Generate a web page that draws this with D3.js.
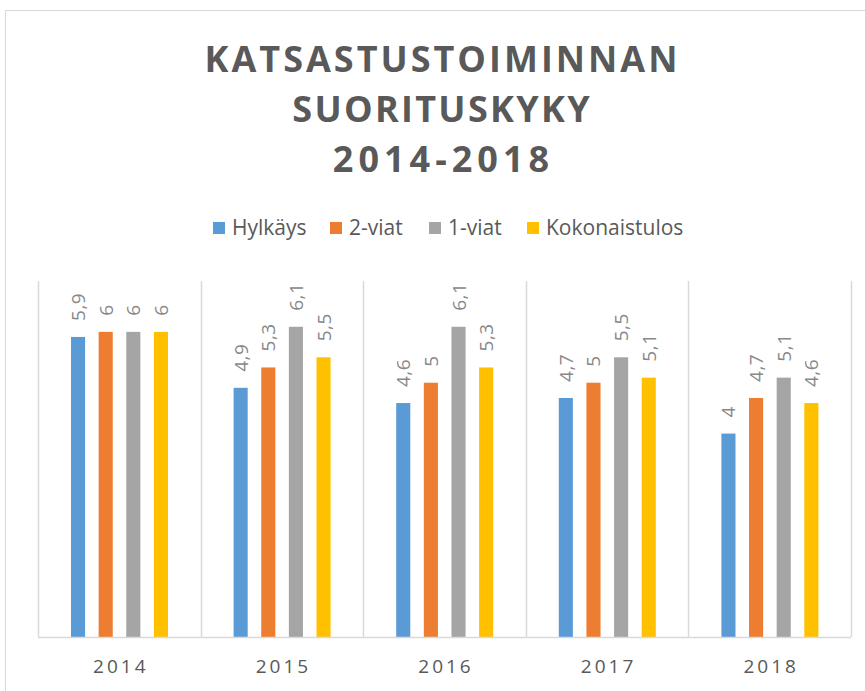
<!DOCTYPE html>
<meta charset="utf-8">
<script src="https://cdn.jsdelivr.net/npm/d3@7"></script>
<style>
body { margin: 0; background: #fff; }
text { font-family: "Open Sans", sans-serif; }
</style>
<body>
<script>

var years = ["2014", "2015", "2016", "2017", "2018"];
var seriesNames = ["Hylkäys", "2-viat", "1-viat", "Kokonaistulos"];
var hylkays = [5.9, 4.9, 4.6, 4.7, 4.0];
var kaksiViat = [6.0, 5.3, 5.0, 5.0, 4.7];
var yksiViat = [6.0, 6.1, 6.1, 5.5, 5.1];
var kokonais = [6.0, 5.5, 5.3, 5.1, 4.6];
var colors = ["#5b9bd5", "#ed7d31", "#a5a5a5", "#ffc000"];
var titleLines = ["KATSASTUSTOIMINNAN", "SUORITUSKYKY", "2014-2018"];
var titleSpacing = [3, 2.3, 5];

var allSeries = [hylkays, kaksiViat, yksiViat, kokonais];

var width = 865,
    height = 691;

var svg = d3.select("body").append("svg")
    .attr("width", width)
    .attr("height", height);

// chart frame
svg.append("rect")
    .attr("x", 5.5).attr("y", 10.5)
    .attr("width", 900).attr("height", 900)
    .attr("fill", "none")
    .attr("stroke", "#d9d9d9");

// title
svg.append("g").selectAll("text")
    .data(titleLines)
    .enter().append("text")
    .attr("x", function(d, i) { return 441 + titleSpacing[i] / 2; })
    .attr("y", function(d, i) { return 72 + i * 50; })
    .attr("text-anchor", "middle")
    .style("font-size", "36px")
    .style("font-weight", "bold")
    .style("letter-spacing", function(d, i) { return titleSpacing[i] + "px"; })
    .attr("fill", "#595959")
    .text(function(d) { return d; });

var x0 = d3.scaleBand().domain(years).range([38, 851]);
var x1 = d3.scaleBand().domain(d3.range(4)).range([33, 130]).paddingInner(0.49).paddingOuter(0);
var y = d3.scaleLinear().domain([0, 7]).range([637, 281]);

// category gridlines
svg.append("g").selectAll("line")
    .data(d3.range(years.length + 1))
    .enter().append("line")
    .attr("x1", function(i) { return Math.round(38 + i * x0.bandwidth()) + 0.5; })
    .attr("x2", function(i) { return Math.round(38 + i * x0.bandwidth()) + 0.5; })
    .attr("y1", y(7)).attr("y2", y(0))
    .attr("stroke", "#d9d9d9")
    .attr("stroke-width", 1.5);

// bars
var groups = svg.append("g").selectAll("g")
    .data(years)
    .enter().append("g")
    .attr("transform", function(d) { return "translate(" + x0(d) + ",0)"; });

groups.each(function(yr, yi) {
  var g = d3.select(this);
  allSeries.forEach(function(s, si) {
    var v = s[yi];
    g.append("rect")
      .attr("x", x1(si))
      .attr("width", x1.bandwidth())
      .attr("y", y(v))
      .attr("height", y(0) - y(v))
      .attr("fill", colors[si]);
    var lx = x1(si) + x1.bandwidth() / 2 + 7,
        ly = y(v) - 16;
    g.append("text")
      .attr("transform", "translate(" + lx + "," + ly + ") rotate(-90)")
      .style("font-size", "19px")
      .style("letter-spacing", "0.5px")
      .attr("fill", "#888888")
      .text(String(v % 1 === 0 ? v : v.toFixed(1).replace(".", ",")));
  });
});

// baseline
svg.append("line")
    .attr("x1", 38).attr("x2", 851)
    .attr("y1", y(0) + 0.5).attr("y2", y(0) + 0.5)
    .attr("stroke", "#d9d9d9")
    .attr("stroke-width", 1.5);

// x labels
svg.append("g").selectAll("text")
    .data(years)
    .enter().append("text")
    .attr("x", function(d) { return x0(d) + x0.bandwidth() / 2 + 1.5; })
    .attr("y", 673)
    .attr("text-anchor", "middle")
    .style("font-size", "19px")
    .style("letter-spacing", "3px")
    .attr("fill", "#595959")
    .text(function(d) { return d; });

// legend
var legendX = [213, 330, 429, 527];
var legend = svg.append("g").selectAll("g")
    .data(seriesNames)
    .enter().append("g")
    .attr("transform", function(d, i) { return "translate(" + legendX[i] + ",222)"; });
legend.append("rect")
    .attr("width", 12).attr("height", 12)
    .attr("fill", function(d, i) { return colors[i]; });
legend.append("text")
    .attr("x", 19).attr("y", 13)
    .style("font-size", "21px")
    .attr("fill", "#595959")
    .text(function(d) { return d; });

</script>
</body>
